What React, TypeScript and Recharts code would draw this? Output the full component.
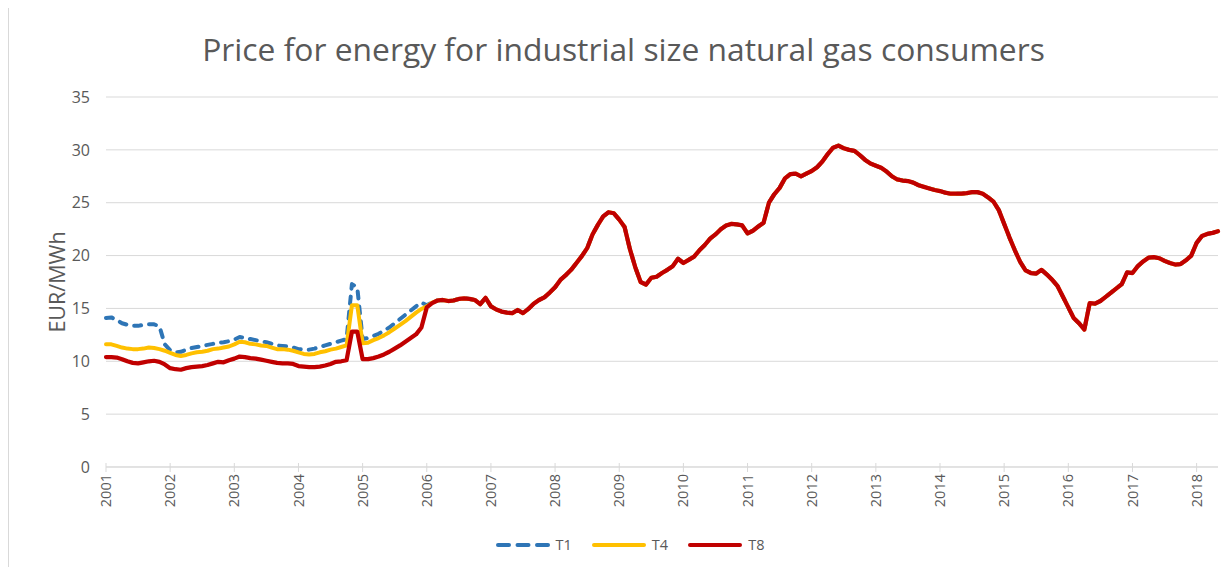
import React from 'react';
import { LineChart, Line, XAxis, YAxis, CartesianGrid, Legend } from 'recharts';

// ---------- data (monthly, Jan 2001 – May 2018) ----------
const firstYear = 2001;
const monthCount = 209;
const categories: string[] = Array.from({ length: monthCount }, (_, i) => {
  const y = firstYear + Math.floor(i / 12);
  const m = (i % 12) + 1;
  return `${y}-${m < 10 ? '0' + m : m}`;
});

const yTicks = [0, 5, 10, 15, 20, 25, 30, 35];

// T8 – whole period
const t8 = [
  // 2001
  10.4, 10.4, 10.35, 10.2, 10.0, 9.85, 9.8, 9.9, 10.0, 10.05, 9.95, 9.7,
  // 2002
  9.35, 9.25, 9.2, 9.35, 9.45, 9.5, 9.55, 9.65, 9.8, 9.95, 9.9, 10.1,
  // 2003
  10.25, 10.45, 10.4, 10.3, 10.25, 10.15, 10.05, 9.95, 9.85, 9.8, 9.8, 9.75,
  // 2004
  9.55, 9.5, 9.45, 9.45, 9.5, 9.6, 9.75, 9.95, 10.0, 10.1, 12.8, 12.8,
  // 2005
  10.2, 10.2, 10.3, 10.45, 10.65, 10.9, 11.2, 11.5, 11.85, 12.2, 12.55, 13.2,
  // 2006
  15.1, 15.5, 15.75, 15.8, 15.7, 15.75, 15.9, 15.95, 15.9, 15.8, 15.4, 16.0,
  // 2007
  15.2, 14.9, 14.7, 14.6, 14.55, 14.85, 14.55, 14.95, 15.45, 15.8, 16.05, 16.5,
  // 2008
  17.0, 17.7, 18.15, 18.65, 19.3, 19.95, 20.7, 22.0, 22.9, 23.7, 24.1, 24.0,
  // 2009
  23.4, 22.7, 20.6, 18.9, 17.5, 17.25, 17.9, 18.0, 18.35, 18.65, 19.0, 19.7,
  // 2010
  19.3, 19.6, 19.9, 20.5, 21.0, 21.6, 22.0, 22.5, 22.85, 23.0, 22.95, 22.85,
  // 2011
  22.1, 22.35, 22.75, 23.1, 25.0, 25.8, 26.4, 27.3, 27.7, 27.75, 27.5, 27.75,
  // 2012
  28.0, 28.35, 28.9, 29.6, 30.2, 30.4, 30.15, 30.0, 29.9, 29.5, 29.05, 28.7,
  // 2013
  28.5, 28.3, 27.95, 27.5, 27.2, 27.1, 27.05, 26.9, 26.65, 26.5, 26.35, 26.2,
  // 2014
  26.1, 25.95, 25.85, 25.85, 25.85, 25.9, 26.0, 26.0, 25.85, 25.5, 25.1, 24.3,
  // 2015
  23.0, 21.7, 20.5, 19.4, 18.6, 18.35, 18.3, 18.65, 18.2, 17.7, 17.1, 16.1,
  // 2016
  15.1, 14.1, 13.6, 13.0, 15.5, 15.45, 15.7, 16.1, 16.5, 16.9, 17.3, 18.4,
  // 2017
  18.35, 19.0, 19.45, 19.8, 19.85, 19.75, 19.5, 19.3, 19.15, 19.2, 19.55, 20.0,
  // 2018
  21.2, 21.85, 22.05, 22.15, 22.3,
];

// T4 – differs from T8 until Feb 2006, afterwards the lines coincide with T8
const t4Early = [
  11.6, 11.6, 11.45, 11.3, 11.2, 11.15, 11.15, 11.2, 11.3, 11.25, 11.15, 11.0,
  10.8, 10.6, 10.5, 10.6, 10.75, 10.85, 10.9, 11.0, 11.15, 11.2, 11.3, 11.4,
  11.6, 11.85, 11.8, 11.65, 11.6, 11.5, 11.45, 11.3, 11.15, 11.15, 11.1, 11.0,
  10.85, 10.7, 10.65, 10.7, 10.85, 10.95, 11.1, 11.2, 11.35, 11.5, 15.3, 15.3,
  11.7, 11.75, 12.0, 12.2, 12.45, 12.75, 13.1, 13.45, 13.8, 14.2, 14.6, 14.95,
  15.2, 15.55,
];

// T1 – differs from T8 until Feb 2006, afterwards the lines coincide with T8
const t1Early = [
  14.1, 14.15, 13.9, 13.6, 13.45, 13.35, 13.35, 13.45, 13.5, 13.5, 13.3, 11.6,
  11.05, 10.85, 10.9, 11.1, 11.25, 11.35, 11.45, 11.55, 11.65, 11.75, 11.8, 11.9,
  12.05, 12.3, 12.2, 12.1, 12.0, 11.9, 11.8, 11.65, 11.5, 11.45, 11.4, 11.3,
  11.15, 11.1, 11.1, 11.2, 11.35, 11.5, 11.65, 11.8, 11.95, 12.1, 17.3, 17.0,
  12.1, 12.2, 12.4, 12.6, 12.9, 13.2, 13.6, 14.0, 14.4, 14.8, 15.2, 15.55,
  15.3, 15.6,
];

const data = categories.map((month, i) => ({
  month,
  T1: i < t1Early.length ? t1Early[i] : t8[i],
  T4: i < t4Early.length ? t4Early[i] : t8[i],
  T8: t8[i],
}));

// ---------- style ----------
const FONT = '"Open Sans", "Noto Sans", sans-serif';
const GRID = '#d9d9d9';
const TEXT = '#595959';
const C_T1 = '#2E75B6';
const C_T4 = '#FFC000';
const C_T8 = '#C00000';

const legendItems = [
  { name: 'T1', color: C_T1, dash: '11 8.5' },
  { name: 'T4', color: C_T4, dash: undefined as string | undefined },
  { name: 'T8', color: C_T8, dash: undefined as string | undefined },
];

const XTick = (props: any) => {
  const { x, y, payload } = props;
  const year = String(payload.value).slice(0, 4);
  const ty = y + 7;
  return (
    <g>
      <line x1={x} x2={x} y1={y - 4} y2={y + 5} stroke={GRID} strokeWidth={1} />
      <text
        x={x}
        y={ty}
        transform={`rotate(-90, ${x}, ${ty})`}
        textAnchor="end"
        dy="0.35em"
        fill={TEXT}
        fontSize={14.5}
        fontFamily={FONT}
      >
        {year}
      </text>
    </g>
  );
};

const YLabel = (props: any) => {
  const vb = props.viewBox || {};
  const cx = 48;
  const cy = (vb.y ?? 89) + (vb.height ?? 370) / 2;
  return (
    <text
      x={cx}
      y={cy}
      transform={`rotate(-90, ${cx}, ${cy})`}
      textAnchor="middle"
      dominantBaseline="central"
      fill={TEXT}
      fontSize={21.5}
      fontFamily={FONT}
    >
      EUR/MWh
    </text>
  );
};

const LegendContent = () => (
  <div
    style={{
      display: 'flex',
      justifyContent: 'center',
      alignItems: 'center',
      height: 20,
      paddingLeft: 34,
    }}
  >
    {legendItems.map((it, i) => (
      <div key={it.name} style={{ display: 'flex', alignItems: 'center', marginLeft: i ? 20 : 0 }}>
        <svg width={54} height={8} style={{ display: 'block' }}>
          <line
            x1={2}
            x2={52}
            y1={4}
            y2={4}
            stroke={it.color}
            strokeWidth={4}
            strokeLinecap="round"
            strokeDasharray={it.dash}
          />
        </svg>
        <span
          style={{
            marginLeft: 6,
            fontFamily: FONT,
            fontSize: 14.5,
            color: TEXT,
            lineHeight: '20px',
          }}
        >
          {it.name}
        </span>
      </div>
    ))}
  </div>
);

export default function App() {
  return (
    <div style={{ position: 'relative', width: 1221, height: 559, background: '#fff' }}>
      <div
        style={{
          position: 'absolute',
          left: 0,
          top: 0,
          bottom: 0,
          borderLeft: `1px solid ${GRID}`,
          pointerEvents: 'none',
        }}
      />
      <div
        style={{
          position: 'absolute',
          top: 21,
          left: 5,
          width: 1221,
          textAlign: 'center',
          fontFamily: FONT,
          fontSize: 31.8,
          lineHeight: '40px',
          color: TEXT,
          pointerEvents: 'none',
          zIndex: 2,
        }}
      >
        Price for energy for industrial size natural gas consumers
      </div>
      <LineChart
        width={1221}
        height={559}
        data={data}
        margin={{ top: 89, right: 11, bottom: 12, left: 0 }}
      >
        <CartesianGrid vertical={false} stroke={GRID} strokeWidth={1} />
        <XAxis
          dataKey="month"
          interval={11}
          tick={<XTick />}
          tickLine={false}
          tickSize={0}
          tickMargin={0}
          axisLine={{ stroke: GRID, strokeWidth: 1 }}
          height={68}
          padding={{ left: 0, right: 0 }}
        />
        <YAxis
          domain={[0, 35]}
          ticks={yTicks}
          interval={0}
          axisLine={false}
          tickLine={false}
          tickSize={0}
          tickMargin={16}
          width={98}
          tick={{ fill: TEXT, fontSize: 16, fontFamily: FONT }}
          label={<YLabel />}
        />
        <Legend verticalAlign="bottom" height={20} content={<LegendContent />} />
        <Line
          dataKey="T1"
          type="linear"
          stroke={C_T1}
          strokeWidth={4}
          strokeDasharray="7 8"
          strokeLinecap="round"
          strokeLinejoin="round"
          dot={false}
          activeDot={false}
          isAnimationActive={false}
        />
        <Line
          dataKey="T4"
          type="linear"
          stroke={C_T4}
          strokeWidth={4}
          strokeLinejoin="round"
          strokeLinecap="round"
          dot={false}
          activeDot={false}
          isAnimationActive={false}
        />
        <Line
          dataKey="T8"
          type="linear"
          stroke={C_T8}
          strokeWidth={4.25}
          strokeLinejoin="round"
          strokeLinecap="round"
          dot={false}
          activeDot={false}
          isAnimationActive={false}
        />
      </LineChart>
    </div>
  );
}
